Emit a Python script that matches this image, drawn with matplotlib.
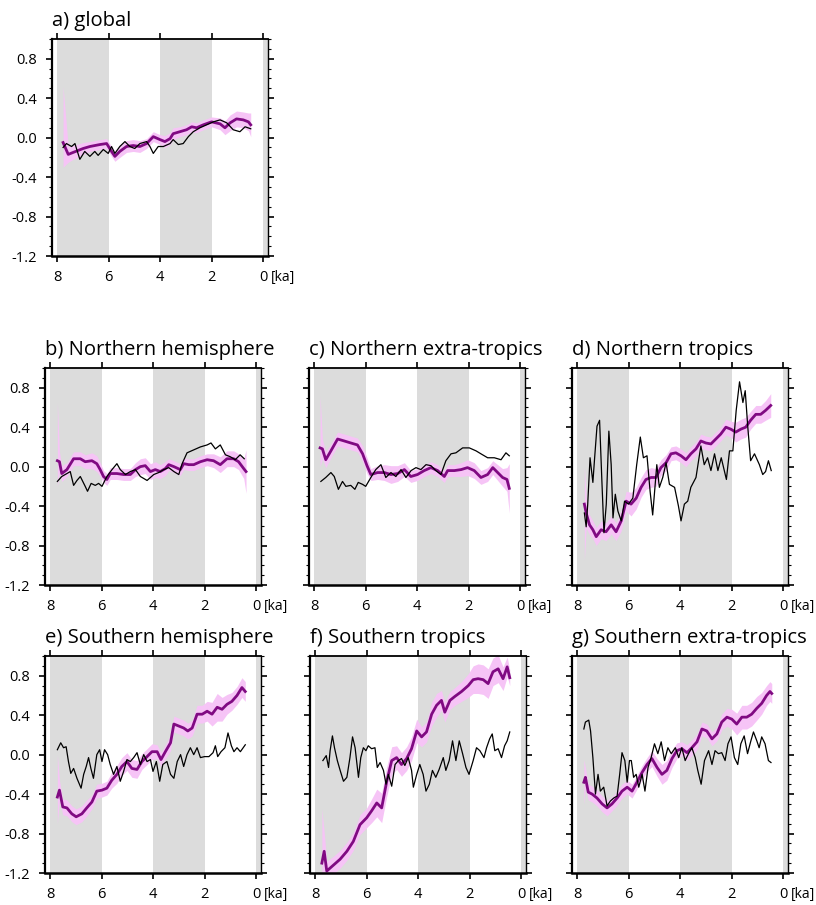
import numpy as np
import matplotlib
matplotlib.use("Agg")
import matplotlib.pyplot as plt
import matplotlib.ticker as ticker

plt.rcParams['font.family'] = ['Open Sans', 'DejaVu Sans']
plt.rcParams['axes.unicode_minus'] = False

# ---------------------------------------------------------------------------
# data (time in ka, anomaly values)
# recon = purple line, spread = half width of pink band, spike = band at first point
# model = thin black line
# ---------------------------------------------------------------------------

# a) global
a_t = [7.77, 7.57, 7.38, 6.99, 6.73, 6.34, 6.08, 5.89, 5.76, 5.57,
       5.31, 5.05, 4.79, 4.53, 4.27, 4.01, 3.82, 3.62, 3.50, 3.24,
       2.98, 2.78, 2.59, 2.33, 2.01, 1.68, 1.49, 1.29, 1.04, 0.78,
       0.58, 0.49]
a_recon = [-0.05, -0.17, -0.15, -0.11, -0.09, -0.07, -0.06, -0.14, -0.19, -0.14,
           -0.09, -0.08, -0.09, -0.06, 0.01, -0.02, -0.04, -0.01, 0.04, 0.06,
           0.08, 0.11, 0.10, 0.13, 0.16, 0.14, 0.10, 0.15, 0.19, 0.18,
           0.16, 0.13]
a_spread = [0.10, 0.08, 0.07, 0.06, 0.05, 0.05, 0.05, 0.05, 0.05, 0.06,
            0.06, 0.06, 0.06, 0.05, 0.05, 0.05, 0.06, 0.06, 0.06, 0.05,
            0.05, 0.05, 0.05, 0.05, 0.05, 0.06, 0.07, 0.08, 0.08, 0.08,
            0.09, 0.12]
a_spike = (-0.30, 0.52)
a_tm = [7.77, 7.64, 7.44, 7.31, 7.12, 6.93, 6.73, 6.54, 6.41, 6.21,
        6.02, 5.89, 5.76, 5.57, 5.37, 5.18, 4.99, 4.79, 4.53, 4.40,
        4.27, 4.08, 3.88, 3.62, 3.50, 3.30, 3.11, 2.91, 2.72, 2.46,
        2.20, 1.94, 1.68, 1.42, 1.17, 0.91, 0.71, 0.49]
a_model = [-0.10, -0.06, -0.09, -0.06, -0.22, -0.14, -0.19, -0.14, -0.18, -0.12,
           -0.16, -0.09, -0.16, -0.09, -0.04, -0.09, -0.11, -0.06, -0.04, -0.09,
           -0.16, -0.09, -0.09, -0.06, -0.02, -0.07, -0.06, 0.01, 0.06, 0.10,
           0.13, 0.16, 0.18, 0.15, 0.08, 0.06, 0.11, 0.09]

# b) Northern hemisphere
b_t = [7.72, 7.64, 7.55, 7.35, 7.09, 6.83, 6.64, 6.38, 6.19, 6.06,
       5.93, 5.80, 5.67, 5.41, 5.15, 4.89, 4.69, 4.50, 4.31, 4.11,
       3.92, 3.73, 3.53, 3.40, 3.20, 2.95, 2.82, 2.62, 2.43, 2.17,
       1.91, 1.66, 1.40, 1.14, 0.88, 0.69, 0.49, 0.40]
b_recon = [0.06, 0.05, -0.07, -0.03, 0.08, 0.08, 0.05, 0.06, 0.03, -0.03,
           -0.10, -0.13, -0.07, -0.07, -0.08, -0.08, -0.03, 0.00, 0.01, -0.05,
           -0.03, -0.05, -0.02, 0.02, 0.00, -0.03, 0.03, 0.02, 0.02, 0.05,
           0.07, 0.06, 0.02, 0.08, 0.08, 0.05, -0.02, -0.05]
b_spread = [0.12, 0.10, 0.08, 0.07, 0.07, 0.07, 0.07, 0.08, 0.08, 0.07,
            0.06, 0.06, 0.06, 0.06, 0.06, 0.06, 0.07, 0.08, 0.08, 0.08,
            0.08, 0.07, 0.07, 0.06, 0.06, 0.06, 0.06, 0.06, 0.06, 0.06,
            0.06, 0.07, 0.08, 0.08, 0.08, 0.08, 0.10, 0.22]
b_spike = (-0.20, 0.65)
b_tm = [7.72, 7.55, 7.35, 7.22, 7.09, 6.96, 6.83, 6.64, 6.55, 6.41,
        6.25, 6.12, 5.99, 5.80, 5.60, 5.41, 5.28, 5.08, 4.89, 4.69,
        4.50, 4.24, 3.98, 3.79, 3.59, 3.40, 3.20, 3.01, 2.88, 2.69,
        2.43, 2.17, 1.91, 1.76, 1.59, 1.40, 1.20, 1.01, 0.82, 0.63,
        0.47]
b_model = [-0.15, -0.10, -0.07, -0.05, -0.19, -0.14, -0.10, -0.20, -0.25, -0.17,
           -0.19, -0.17, -0.20, -0.10, -0.03, 0.03, -0.03, -0.08, -0.05, -0.03,
           -0.10, -0.14, -0.08, -0.06, -0.03, -0.01, -0.05, -0.08, 0.03, 0.14,
           0.17, 0.20, 0.22, 0.24, 0.18, 0.22, 0.12, 0.10, 0.07, 0.12,
           0.08]

# c) Northern extra-tropics
c_t = [7.77, 7.68, 7.55, 7.35, 7.09, 6.83, 6.58, 6.32, 6.12, 5.95,
       5.80, 5.54, 5.28, 5.02, 4.76, 4.50, 4.25, 3.99, 3.73, 3.47,
       3.21, 2.95, 2.82, 2.56, 2.30, 2.05, 1.79, 1.53, 1.27, 1.07,
       0.88, 0.69, 0.52, 0.43]
c_recon = [0.19, 0.18, 0.07, 0.16, 0.28, 0.26, 0.24, 0.22, 0.13, 0.01,
           -0.08, -0.06, -0.06, -0.08, -0.07, -0.03, -0.10, -0.08, -0.04, -0.01,
           -0.04, -0.10, -0.04, -0.04, -0.03, -0.01, -0.04, -0.11, -0.08, -0.01,
           -0.06, -0.11, -0.13, -0.22]
c_spread = [0.12, 0.10, 0.08, 0.07, 0.07, 0.07, 0.07, 0.07, 0.08, 0.08,
            0.06, 0.07, 0.08, 0.09, 0.08, 0.07, 0.06, 0.06, 0.06, 0.06,
            0.06, 0.06, 0.06, 0.06, 0.07, 0.08, 0.08, 0.07, 0.07, 0.07,
            0.08, 0.09, 0.12, 0.25]
c_spike = (0.00, 0.72)
c_tm = [7.74, 7.55, 7.35, 7.22, 7.06, 6.90, 6.77, 6.58, 6.42, 6.29,
        6.12, 6.00, 5.80, 5.61, 5.41, 5.22, 5.02, 4.83, 4.63, 4.44,
        4.24, 4.05, 3.86, 3.66, 3.47, 3.28, 3.08, 2.89, 2.69, 2.50,
        2.24, 1.98, 1.72, 1.53, 1.27, 1.01, 0.75, 0.56, 0.43]
c_model = [-0.15, -0.11, -0.06, -0.10, -0.23, -0.15, -0.20, -0.19, -0.23, -0.16,
           -0.18, -0.20, -0.11, -0.03, 0.02, -0.11, -0.06, -0.10, -0.03, -0.11,
           -0.04, -0.01, -0.03, 0.02, 0.01, -0.04, -0.08, 0.06, 0.13, 0.14,
           0.19, 0.19, 0.16, 0.13, 0.09, 0.09, 0.07, 0.14, 0.11]

# d) Northern tropics
d_t = [7.72, 7.65, 7.52, 7.39, 7.26, 7.07, 6.88, 6.68, 6.49, 6.29,
       6.10, 5.91, 5.71, 5.52, 5.33, 5.13, 4.94, 4.75, 4.55, 4.36,
       4.17, 3.97, 3.78, 3.59, 3.39, 3.20, 3.01, 2.81, 2.62, 2.43,
       2.23, 2.04, 1.85, 1.65, 1.46, 1.27, 1.07, 0.88, 0.69, 0.49]
d_recon = [-0.38, -0.47, -0.59, -0.64, -0.71, -0.64, -0.66, -0.59, -0.66, -0.55,
           -0.35, -0.38, -0.32, -0.21, -0.13, -0.11, -0.11, -0.01, 0.04, 0.13,
           0.14, 0.11, 0.07, 0.13, 0.18, 0.26, 0.24, 0.23, 0.28, 0.33,
           0.40, 0.38, 0.35, 0.38, 0.40, 0.47, 0.53, 0.53, 0.57, 0.62]
d_spread = [0.25, 0.15, 0.10, 0.09, 0.09, 0.09, 0.09, 0.09, 0.09, 0.10,
            0.10, 0.12, 0.11, 0.10, 0.10, 0.10, 0.09, 0.08, 0.08, 0.07,
            0.07, 0.07, 0.07, 0.07, 0.07, 0.07, 0.07, 0.07, 0.07, 0.07,
            0.08, 0.08, 0.10, 0.10, 0.10, 0.09, 0.09, 0.09, 0.10, 0.12]
d_spike = (-0.95, 0.00)
d_tm = [7.72, 7.65, 7.59, 7.50, 7.39, 7.33, 7.23, 7.13, 7.04, 6.96,
        6.87, 6.77, 6.68, 6.61, 6.52, 6.42, 6.29, 6.16, 6.01, 5.84,
        5.69, 5.55, 5.43, 5.29, 5.17, 5.07, 4.91, 4.81, 4.68, 4.55,
        4.42, 4.22, 4.07, 3.97, 3.84, 3.71, 3.59, 3.39, 3.20, 3.07,
        2.94, 2.81, 2.67, 2.54, 2.41, 2.21, 2.09, 1.96, 1.83, 1.70,
        1.57, 1.48, 1.38, 1.27, 1.12, 0.93, 0.80, 0.69, 0.58, 0.47]
d_model = [-0.47, -0.61, -0.38, 0.09, -0.16, 0.06, 0.41, 0.47, -0.15, -0.67,
           -0.38, 0.36, 0.02, -0.52, -0.28, -0.45, -0.55, -0.35, -0.38, -0.32,
           0.02, 0.30, 0.09, 0.11, -0.25, -0.49, 0.02, -0.21, -0.11, 0.04,
           -0.18, -0.21, -0.40, -0.55, -0.38, -0.35, -0.21, -0.11, 0.21, 0.02,
           0.09, -0.04, 0.13, -0.04, 0.09, -0.13, 0.16, 0.16, 0.57, 0.86,
           0.65, 0.77, 0.40, 0.06, 0.13, 0.02, -0.08, -0.05, 0.06, -0.04]

# e) Southern hemisphere
e_t = [7.72, 7.64, 7.51, 7.35, 7.16, 6.99, 6.77, 6.58, 6.38, 6.19,
       5.99, 5.80, 5.61, 5.41, 5.22, 5.02, 4.83, 4.63, 4.44, 4.24,
       4.05, 3.85, 3.70, 3.53, 3.33, 3.20, 3.01, 2.82, 2.66, 2.49,
       2.30, 2.10, 1.91, 1.72, 1.52, 1.33, 1.14, 0.95, 0.75, 0.56,
       0.43]
e_recon = [-0.43, -0.36, -0.53, -0.54, -0.60, -0.63, -0.60, -0.54, -0.48, -0.37,
           -0.36, -0.34, -0.26, -0.20, -0.12, -0.07, -0.14, -0.15, -0.07, -0.02,
           0.03, 0.03, -0.05, 0.03, 0.12, 0.31, 0.29, 0.27, 0.24, 0.27,
           0.41, 0.41, 0.44, 0.41, 0.48, 0.46, 0.51, 0.54, 0.60, 0.68,
           0.64]
e_spread = [0.25, 0.10, 0.08, 0.08, 0.08, 0.08, 0.08, 0.08, 0.07, 0.07,
            0.07, 0.07, 0.08, 0.09, 0.09, 0.09, 0.09, 0.09, 0.08, 0.08,
            0.08, 0.07, 0.07, 0.07, 0.08, 0.08, 0.08, 0.08, 0.08, 0.08,
            0.09, 0.09, 0.10, 0.12, 0.14, 0.12, 0.10, 0.09, 0.09, 0.10,
            0.10]
e_spike = (-0.70, 0.00)
e_tm = [7.72, 7.59, 7.48, 7.38, 7.29, 7.20, 7.09, 6.96, 6.80, 6.70,
        6.60, 6.51, 6.42, 6.32, 6.19, 6.08, 5.99, 5.89, 5.77, 5.67,
        5.54, 5.41, 5.28, 5.15, 5.02, 4.89, 4.76, 4.63, 4.50, 4.37,
        4.24, 4.11, 4.01, 3.88, 3.75, 3.63, 3.47, 3.33, 3.20, 3.07,
        2.94, 2.82, 2.69, 2.56, 2.43, 2.30, 2.17, 2.01, 1.84, 1.68,
        1.59, 1.50, 1.37, 1.22, 1.10, 0.97, 0.87, 0.75, 0.62, 0.43]
e_model = [0.05, 0.12, 0.07, 0.08, -0.07, -0.19, -0.14, -0.24, -0.34, -0.20,
           -0.12, -0.03, -0.14, -0.24, 0.00, 0.05, -0.07, 0.05, 0.00, -0.10,
           -0.20, -0.12, -0.27, -0.17, -0.05, -0.07, -0.03, 0.02, -0.10, 0.00,
           -0.07, -0.05, -0.17, -0.07, -0.27, -0.10, -0.07, -0.20, -0.24, -0.07,
           0.00, -0.12, 0.00, 0.07, 0.00, 0.07, -0.03, -0.02, -0.02, 0.02,
           0.09, -0.02, 0.03, 0.07, 0.22, 0.09, 0.03, 0.07, 0.03, 0.10]

# f) Southern tropics
f_t = [7.74, 7.65, 7.55, 7.29, 7.03, 6.77, 6.52, 6.26, 6.00, 5.81,
       5.61, 5.42, 5.23, 5.03, 4.84, 4.65, 4.45, 4.26, 4.06, 3.87,
       3.68, 3.48, 3.29, 3.10, 2.97, 2.77, 2.58, 2.32, 2.06, 1.87,
       1.68, 1.48, 1.29, 1.10, 0.90, 0.71, 0.55, 0.45]
f_recon = [-1.10, -0.98, -1.18, -1.12, -1.06, -0.98, -0.88, -0.71, -0.64, -0.57,
           -0.49, -0.54, -0.28, -0.06, -0.03, -0.10, -0.04, 0.06, 0.24, 0.18,
           0.23, 0.41, 0.50, 0.55, 0.43, 0.55, 0.59, 0.64, 0.70, 0.76,
           0.77, 0.76, 0.72, 0.84, 0.87, 0.77, 0.89, 0.78]
f_spread = [0.25, 0.20, 0.10, 0.09, 0.09, 0.09, 0.09, 0.10, 0.10, 0.12,
            0.14, 0.15, 0.15, 0.14, 0.12, 0.12, 0.12, 0.12, 0.12, 0.10,
            0.10, 0.12, 0.12, 0.10, 0.10, 0.09, 0.09, 0.10, 0.12, 0.14,
            0.15, 0.15, 0.15, 0.14, 0.14, 0.12, 0.10, 0.08]
f_spike = (-1.25, -0.55)
f_tm = [7.70, 7.57, 7.48, 7.42, 7.33, 7.25, 7.14, 7.03, 6.90, 6.77,
        6.65, 6.55, 6.45, 6.32, 6.23, 6.13, 6.03, 5.94, 5.81, 5.68,
        5.59, 5.48, 5.35, 5.25, 5.16, 5.03, 4.90, 4.77, 4.65, 4.52,
        4.39, 4.26, 4.19, 4.06, 3.94, 3.81, 3.70, 3.57, 3.45, 3.32,
        3.19, 3.03, 2.93, 2.80, 2.67, 2.54, 2.41, 2.28, 2.15, 2.03,
        1.87, 1.74, 1.61, 1.45, 1.35, 1.23, 1.13, 1.03, 0.90, 0.77,
        0.65, 0.55, 0.45]
f_model = [-0.06, -0.01, -0.13, 0.04, 0.19, 0.07, -0.06, -0.16, -0.27, -0.23,
           -0.03, 0.18, 0.07, -0.23, -0.03, 0.07, 0.04, 0.09, 0.06, 0.07,
           -0.13, -0.08, -0.16, -0.30, -0.20, -0.32, -0.10, -0.06, -0.04, -0.11,
           -0.03, -0.16, -0.33, -0.20, -0.10, -0.20, -0.37, -0.30, -0.16, -0.23,
           -0.15, -0.03, -0.16, -0.06, 0.14, -0.06, 0.14, 0.01, -0.13, -0.20,
           -0.06, 0.07, 0.04, -0.03, 0.07, 0.16, 0.21, 0.04, 0.06, -0.03,
           0.09, 0.14, 0.23]

# g) Southern extra-tropics
g_t = [7.74, 7.68, 7.57, 7.42, 7.23, 7.03, 6.84, 6.65, 6.45, 6.26,
       6.06, 5.87, 5.68, 5.48, 5.29, 5.10, 4.90, 4.71, 4.52, 4.32,
       4.13, 3.94, 3.74, 3.55, 3.35, 3.16, 2.97, 2.77, 2.58, 2.39,
       2.19, 2.00, 1.81, 1.61, 1.42, 1.23, 1.03, 0.84, 0.65, 0.52,
       0.45]
g_recon = [-0.28, -0.23, -0.38, -0.40, -0.44, -0.50, -0.54, -0.50, -0.44, -0.37,
           -0.33, -0.37, -0.28, -0.18, -0.10, -0.04, -0.13, -0.20, -0.16, -0.04,
           0.04, 0.06, 0.02, 0.07, 0.13, 0.26, 0.24, 0.16, 0.21, 0.33,
           0.38, 0.36, 0.31, 0.38, 0.38, 0.41, 0.47, 0.52, 0.60, 0.64,
           0.62]
g_spread = [0.15, 0.10, 0.08, 0.08, 0.08, 0.08, 0.08, 0.07, 0.07, 0.07,
            0.07, 0.07, 0.07, 0.07, 0.07, 0.08, 0.09, 0.10, 0.10, 0.09,
            0.08, 0.07, 0.08, 0.08, 0.08, 0.07, 0.07, 0.07, 0.07, 0.08,
            0.09, 0.10, 0.11, 0.12, 0.12, 0.12, 0.12, 0.11, 0.10, 0.10,
            0.10]
g_spike = (-0.50, -0.05)
g_tm = [7.74, 7.68, 7.55, 7.48, 7.39, 7.29, 7.19, 7.10, 6.97, 6.84,
        6.71, 6.58, 6.45, 6.35, 6.26, 6.15, 6.06, 5.97, 5.90, 5.81,
        5.71, 5.61, 5.48, 5.37, 5.25, 5.13, 5.00, 4.87, 4.74, 4.61,
        4.48, 4.35, 4.19, 4.06, 3.94, 3.81, 3.68, 3.55, 3.42, 3.32,
        3.19, 3.06, 2.90, 2.77, 2.65, 2.52, 2.39, 2.26, 2.15, 2.03,
        1.90, 1.77, 1.65, 1.52, 1.39, 1.26, 1.16, 1.03, 0.94, 0.84,
        0.71, 0.58, 0.48]
g_model = [0.26, 0.33, 0.35, 0.24, -0.03, -0.40, -0.20, -0.37, -0.33, -0.52,
           -0.47, -0.44, -0.42, -0.20, 0.02, -0.06, -0.28, -0.06, -0.06, -0.23,
           -0.20, -0.33, -0.20, -0.37, -0.13, -0.03, 0.11, 0.01, 0.13, -0.06,
           0.07, 0.01, 0.07, -0.03, 0.07, -0.06, 0.01, 0.07, -0.03, -0.16,
           -0.30, -0.06, 0.04, -0.10, 0.04, 0.01, 0.02, -0.06, 0.11, 0.18,
           -0.03, -0.10, 0.11, 0.19, 0.01, 0.14, 0.23, 0.14, 0.07, 0.18,
           0.11, -0.06, -0.08]

x_ticks = [8, 6, 4, 2, 0]
y_ticks = [-1.2, -0.8, -0.4, 0.0, 0.4, 0.8]
y_ticklabels = ['-1.2', '-0.8', '-0.4', '0.0', '0.4', '0.8']
shade_bands = [(8, 6), (4, 2), (0, -1)]

GRAY = '#dcdcdc'
PURPLE = '#800a82'
PINK = '#f6c4f6'
TICK_FS = 10.5


def draw_panel(ax, title, t, recon, spread, spike, tm, model, show_y):
    t = np.asarray(t)
    recon = np.asarray(recon)
    spread = np.asarray(spread)
    lo = recon - spread
    hi = recon + spread
    lo[0], hi[0] = spike

    for x0, x1 in shade_bands:
        ax.axvspan(x0, x1, color=GRAY, lw=0, zorder=0)

    ax.fill_between(t, lo, hi, color=PINK, lw=0, zorder=1)
    ax.plot(t, recon, color=PURPLE, lw=2.0, zorder=2)
    ax.plot(tm, model, color='black', lw=0.9, zorder=3)

    ax.set_xlim(8.2, -0.18)
    ax.set_ylim(-1.2, 1.0)
    ax.set_xticks(x_ticks)
    ax.set_xticklabels([str(x) for x in x_ticks])
    ax.set_yticks(y_ticks)
    ax.set_yticklabels(y_ticklabels)
    ax.yaxis.set_minor_locator(ticker.MultipleLocator(0.1))

    ax.tick_params(axis='x', which='major', direction='out', top=True, bottom=True,
                   length=4, width=1.2, labelsize=TICK_FS, pad=6)
    ax.tick_params(axis='y', which='major', direction='out', left=True, right=True,
                   length=4, width=1.2, labelsize=TICK_FS, pad=7, labelleft=show_y)
    ax.tick_params(axis='y', which='minor', direction='out', left=True, right=True,
                   length=2.2, width=0.8)

    ax.spines['left'].set_linewidth(1.6)
    ax.spines['bottom'].set_linewidth(1.8)
    ax.spines['top'].set_linewidth(1.3)
    ax.spines['right'].set_linewidth(1.0)

    ax.annotate(title, xy=(0, 1), xycoords='axes fraction', xytext=(0, 9.5),
                textcoords='offset points', ha='left', va='baseline', fontsize=14.6)
    ax.annotate('[ka]', xy=(0, 0), xycoords=('data', 'axes fraction'), xytext=(5.2, -10.0),
                textcoords='offset points', ha='left', va='top', fontsize=10)


fig = plt.figure(figsize=(8.16, 9.05), dpi=100)
W, H = 816, 905
pw, ph = 216, 217


def add_ax(left_px, bottom_px):
    return fig.add_axes([left_px / W, (H - bottom_px) / H, pw / W, ph / H])


ax_a = add_ax(52, 256)
ax_b = add_ax(45, 585)
ax_c = add_ax(309, 585)
ax_d = add_ax(572, 585)
ax_e = add_ax(45, 873)
ax_f = add_ax(310, 873)
ax_g = add_ax(572, 873)

draw_panel(ax_a, 'a) global', a_t, a_recon, a_spread, a_spike, a_tm, a_model, True)
draw_panel(ax_b, 'b) Northern hemisphere', b_t, b_recon, b_spread, b_spike, b_tm, b_model, True)
draw_panel(ax_c, 'c) Northern extra-tropics', c_t, c_recon, c_spread, c_spike, c_tm, c_model, False)
draw_panel(ax_d, 'd) Northern tropics', d_t, d_recon, d_spread, d_spike, d_tm, d_model, False)
draw_panel(ax_e, 'e) Southern hemisphere', e_t, e_recon, e_spread, e_spike, e_tm, e_model, True)
draw_panel(ax_f, 'f) Southern tropics', f_t, f_recon, f_spread, f_spike, f_tm, f_model, False)
draw_panel(ax_g, 'g) Southern extra-tropics', g_t, g_recon, g_spread, g_spike, g_tm, g_model, False)

fig.savefig('out.png', dpi=100)
